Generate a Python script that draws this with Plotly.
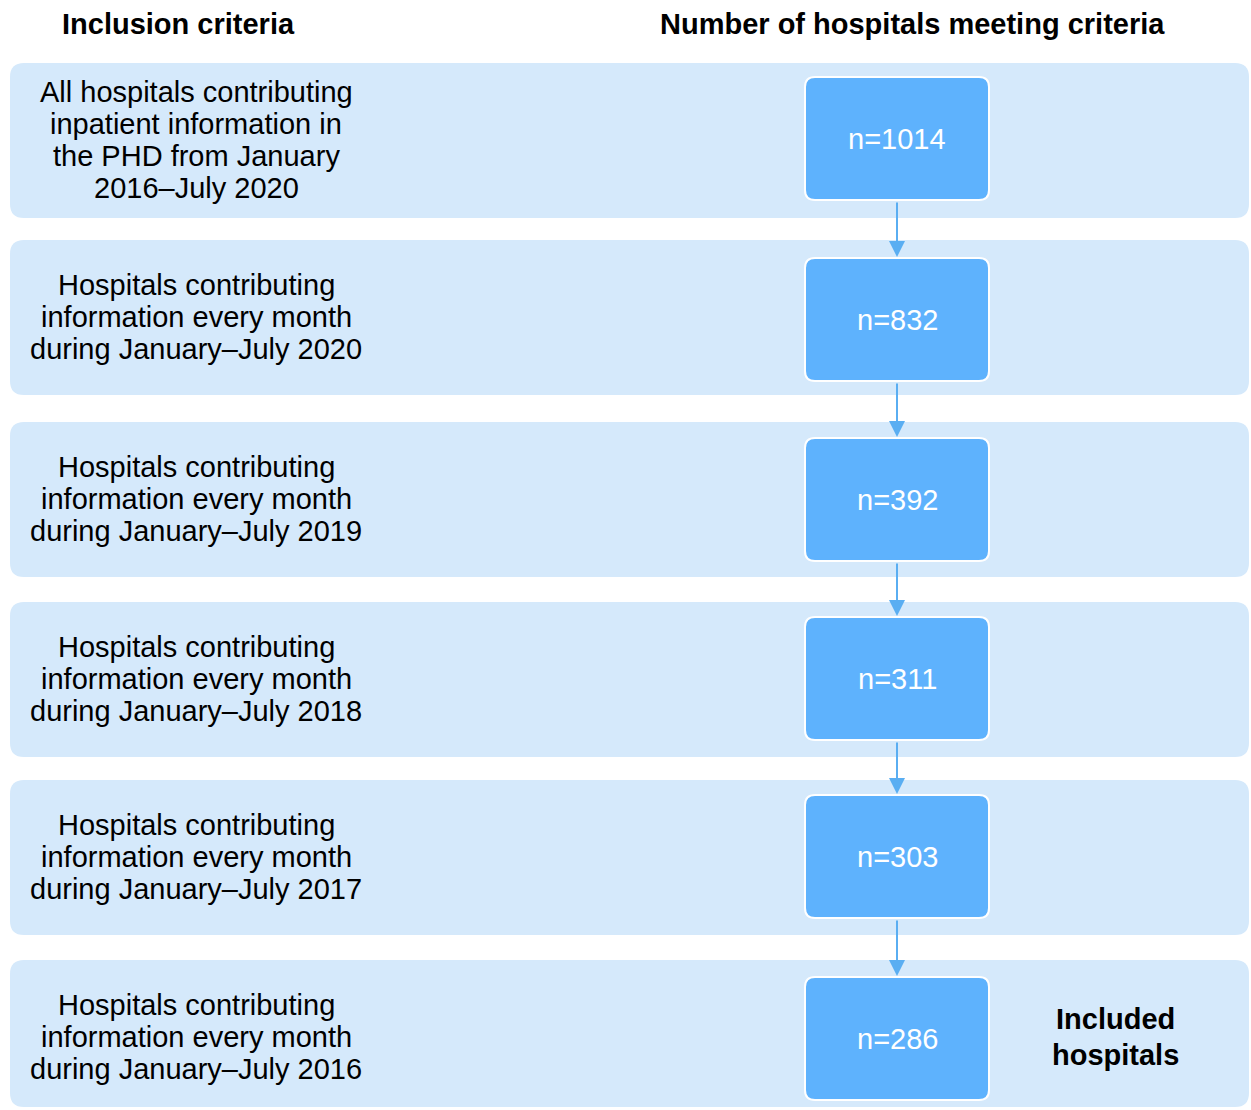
import plotly.graph_objects as go

headers = ["Inclusion criteria", "Number of hospitals meeting criteria"]
criteria = [
    ["All hospitals contributing", "inpatient information in", "the PHD from January", "2016–July 2020"],
    ["Hospitals contributing", "information every month", "during January–July 2020"],
    ["Hospitals contributing", "information every month", "during January–July 2019"],
    ["Hospitals contributing", "information every month", "during January–July 2018"],
    ["Hospitals contributing", "information every month", "during January–July 2017"],
    ["Hospitals contributing", "information every month", "during January–July 2016"],
]
counts = [1014, 832, 392, 311, 303, 286]
final_label = ["Included", "hospitals"]

# layout (pixel positions of the rows)
W, H = 1251, 1110
band_tops = [63, 240, 422, 602, 780, 960]
band_heights = [155, 155, 155, 155, 155, 147]
box_tops = [77, 258, 438, 617, 795, 977]
box_h = 123
box_x0, box_x1 = 805, 989

BAND = "#d5e9fb"
BOX = "#5eb2fd"
ARROW = "#5aaef2"
FONT = "Liberation Sans, Arial, sans-serif"
FS = 29


def rrect(x0, y0, x1, y1, r):
    return (f"M {x0+r},{y0} L {x1-r},{y0} Q {x1},{y0} {x1},{y0+r} "
            f"L {x1},{y1-r} Q {x1},{y1} {x1-r},{y1} L {x0+r},{y1} "
            f"Q {x0},{y1} {x0},{y1-r} L {x0},{y0+r} Q {x0},{y0} {x0+r},{y0} Z")


def text(x, y, s, color="black", bold=False):
    return dict(x=x, y=y, text=f"<b>{s}</b>" if bold else s, showarrow=False,
                xanchor="center", yanchor="middle",
                font=dict(size=FS, color=color, family=FONT))


shapes = []
annotations = [text(178, 24, headers[0], bold=True), text(912, 24, headers[1], bold=True)]

for i, (lines, n) in enumerate(zip(criteria, counts)):
    top = band_tops[i]
    shapes.append(dict(type="path", path=rrect(10, top, 1249, top + band_heights[i], 14),
                       fillcolor=BAND, line=dict(width=0), layer="below"))
    btop = box_tops[i]
    shapes.append(dict(type="path", path=rrect(box_x0, btop, box_x1, btop + box_h, 10),
                       fillcolor=BOX, line=dict(color="white", width=2)))
    cy = top + 77
    for k, line in enumerate(lines):
        annotations.append(text(196, cy + (k - (len(lines) - 1) / 2) * 32, line))
    annotations.append(text(897, btop + box_h / 2, f"n={n}", color="white"))
    if i < len(counts) - 1:
        annotations.append(dict(x=897, y=box_tops[i + 1] - 1, ax=897, ay=btop + box_h + 1,
                                xref="x", yref="y", axref="x", ayref="y",
                                showarrow=True, arrowhead=2, arrowsize=1.6, arrowwidth=2,
                                arrowcolor=ARROW, standoff=0, text=""))

for k, line in enumerate(final_label):
    annotations.append(text(1115, band_tops[-1] + 59 + k * 36, line, bold=True))

fig = go.Figure()
fig.update_layout(
    width=W, height=H,
    margin=dict(l=0, r=0, t=0, b=0),
    paper_bgcolor="white", plot_bgcolor="white",
    xaxis=dict(range=[0, W], visible=False, fixedrange=True),
    yaxis=dict(range=[H, 0], visible=False, fixedrange=True),
    shapes=shapes, annotations=annotations, showlegend=False,
)
fig.write_html("out.html", config={"displayModeBar": False},
               post_script="document.body.style.margin='0';")
